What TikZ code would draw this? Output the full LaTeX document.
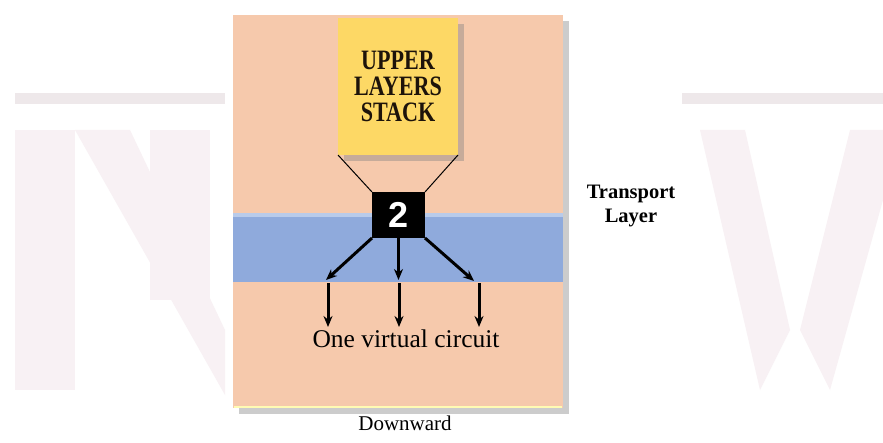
\documentclass[tikz,border=0pt]{standalone}
\usepackage{fontspec}
\setmainfont{Liberation Serif}
\newfontfamily\sansb{Liberation Sans}
\usetikzlibrary{arrows.meta,shadows,calc}
\definecolor{peach}{HTML}{F6C9AC}
\definecolor{yel}{HTML}{FDD865}
\definecolor{bandblue}{HTML}{8FAADC}
\definecolor{bandtop}{HTML}{B9CBEA}
\definecolor{wmark}{HTML}{F8F1F4}
\definecolor{wband}{HTML}{EEE8EA}
\tikzset{
  box/.style={draw=none, inner sep=0pt, outer sep=0pt},
  arr/.style={line width=3pt, -{Stealth[length=11pt,width=9pt]}},
  thin line/.style={line width=1pt},
  shad/.style={drop shadow={shadow xshift=6pt, shadow yshift=-6pt, opacity=0.4, fill=gray}}
}
\begin{document}
\begin{tikzpicture}[x=1pt,y=-1pt]
\useasboundingbox (0,0) rectangle (883,443);
\fill[white] (0,0) rectangle (883,443);
% faint watermark
\fill[wband] (15,93) rectangle (225,104);
\fill[wband] (682,93) rectangle (883,104);
\fill[wmark] (15,130) rectangle (75,390);
\fill[wmark] (75,130) -- (130,130) -- (225,330) -- (225,395) -- cycle;
\fill[wmark] (150,130) rectangle (210,300);
\fill[wmark] (700,130) -- (745,130) -- (790,330) -- (760,390) -- cycle;
\fill[wmark] (883,130) -- (850,130) -- (800,330) -- (830,390) -- (883,200) -- cycle;
% panel
\node[box, shad, fill=peach, minimum width=330pt, minimum height=393pt, anchor=north west] (panel) at (233,15) {};
\draw[white!70!yellow, line width=2pt] (panel.south west) ++(1,-1) -- ($(panel.south east)+(-1,-1)$);
% blue band
\node[box, fill=bandblue, minimum width=330pt, minimum height=69pt, anchor=north west] (band) at (233,213) {};
\fill[bandtop] (band.north west) rectangle ($(band.north east)+(0,4)$);
% upper layers stack
\node[box, shad, fill=yel, minimum width=120pt, minimum height=137pt, anchor=north west,
      font=\fontsize{26}{27}\selectfont\bfseries, align=center, text=black!85!brown] (upper) at (338,18)
      {\scalebox{0.85}[1.08]{UPPER}\\[-1pt]\scalebox{0.85}[1.08]{LAYERS}\\[-1pt]\scalebox{0.85}[1.08]{STACK}};
% black box
\node[box, fill=black, minimum width=53pt, minimum height=46pt, anchor=north west,
      text=white, font=\sansb\fontsize{36}{36}\selectfont\bfseries] (two) at (372,192) {2};
\draw[thin line] (upper.south west) -- (two.north west);
\draw[thin line] (upper.south east) -- (two.north east);
% arrows
\coordinate (a1) at (326,280);
\coordinate (a2) at (398.5,280);
\coordinate (a3) at (474,281);
\draw[arr] (two.south west) -- (a1);
\draw[arr] (two.south) -- (a2);
\draw[arr] (two.south east) -- (a3);
\coordinate (b1s) at (328,283); \coordinate (b1e) at (328,327);
\coordinate (b2s) at (399,283); \coordinate (b2e) at (399,327);
\coordinate (b3s) at (479,283); \coordinate (b3e) at (479,327);
\draw[arr] (b1s) -- (b1e);
\draw[arr] (b2s) -- (b2e);
\draw[arr] (b3s) -- (b3e);
% labels
\node[font=\fontsize{25.5}{28}\selectfont] (ovc) at (406,339) {One virtual circuit};
\node[font=\fontsize{21}{24}\selectfont] (down) at (405,423) {Downward};
\node[font=\fontsize{20.5}{24}\selectfont\bfseries, align=center] (tl) at (631,206) {Transport\\Layer};
\end{tikzpicture}
\end{document}
